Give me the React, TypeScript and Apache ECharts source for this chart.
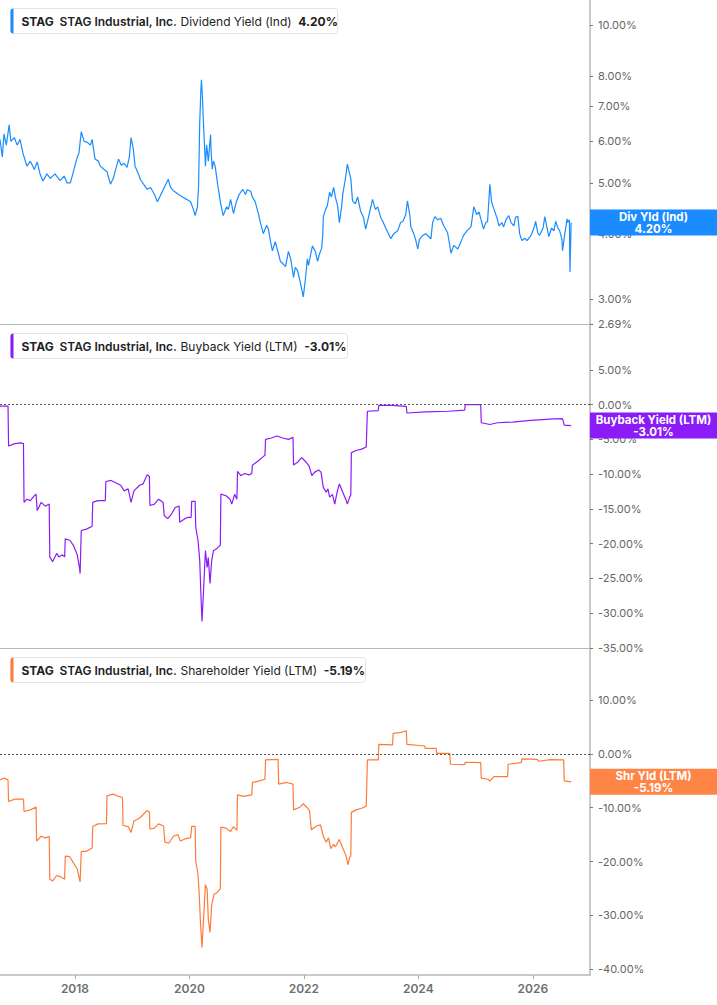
import { useEffect, useRef } from 'react';
import * as echarts from 'echarts';

// time is in decimal years, values in percent
const X_MIN = 2016.69;
const X_MAX = 2027.0;
const yearTicks = [2018, 2020, 2022, 2024, 2026];

const divTicks = [2.69, 3, 4, 5, 6, 7, 8, 10];
const buybackTicks = [5, 0, -5, -10, -15, -20, -25, -30, -35];
const shareholderTicks = [10, 0, -10, -20, -30, -40];

const lastValues = { dividend: 4.2, buyback: -3.01, shareholder: -5.19 };

const dividendYield = [
  [2016.69, 6.05], [2016.73, 5.6], [2016.76, 6.2], [2016.8, 5.9], [2016.85, 6.45], [2016.88, 6.0], [2016.94, 6.1],
  [2016.99, 5.9], [2017.04, 6.05], [2017.09, 5.7], [2017.16, 5.38], [2017.22, 5.5], [2017.29, 5.3], [2017.34, 5.48],
  [2017.39, 5.2], [2017.44, 5.04], [2017.51, 5.2], [2017.57, 5.1], [2017.65, 5.2], [2017.74, 5.05], [2017.81, 5.15],
  [2017.86, 5.0], [2017.92, 5.0], [2017.97, 5.24], [2018.04, 5.6], [2018.07, 5.7], [2018.11, 6.26], [2018.16, 6.0],
  [2018.21, 5.98], [2018.27, 5.9], [2018.3, 6.05], [2018.35, 5.55], [2018.41, 5.5], [2018.44, 5.38], [2018.51, 5.3],
  [2018.56, 5.25], [2018.62, 4.97], [2018.67, 5.1], [2018.76, 5.55], [2018.81, 5.4], [2018.86, 5.45], [2018.91, 5.35],
  [2018.95, 5.6], [2018.98, 6.1], [2019.02, 5.8], [2019.05, 5.38], [2019.11, 5.2], [2019.14, 5.08], [2019.21, 4.95],
  [2019.26, 4.86], [2019.32, 4.9], [2019.39, 4.75], [2019.44, 4.6], [2019.49, 4.72], [2019.56, 4.9], [2019.63, 5.08],
  [2019.67, 4.9], [2019.72, 4.83], [2019.81, 4.75], [2019.88, 4.7], [2019.95, 4.65], [2020.02, 4.6], [2020.07, 4.45],
  [2020.1, 4.33], [2020.14, 4.5], [2020.16, 4.93], [2020.18, 6.5], [2020.2, 7.5], [2020.21, 7.86], [2020.23, 7.2],
  [2020.24, 6.69], [2020.26, 6.0], [2020.28, 5.38], [2020.3, 5.9], [2020.31, 5.79], [2020.33, 5.5], [2020.37, 6.18],
  [2020.38, 5.7], [2020.4, 5.31], [2020.42, 5.5], [2020.45, 5.38], [2020.49, 5.0], [2020.51, 4.83], [2020.54, 4.6],
  [2020.59, 4.33], [2020.65, 4.5], [2020.68, 4.45], [2020.72, 4.65], [2020.77, 4.37], [2020.82, 4.6], [2020.87, 4.75],
  [2020.93, 4.86], [2020.98, 4.75], [2021.01, 4.85], [2021.07, 4.82], [2021.1, 4.7], [2021.15, 4.6], [2021.21, 4.35],
  [2021.24, 4.2], [2021.29, 4.0], [2021.35, 4.15], [2021.38, 4.08], [2021.42, 3.85], [2021.45, 3.71], [2021.5, 3.86],
  [2021.56, 3.65], [2021.59, 3.54], [2021.64, 3.5], [2021.68, 3.46], [2021.73, 3.7], [2021.77, 3.58], [2021.82, 3.3],
  [2021.85, 3.45], [2021.89, 3.4], [2021.94, 3.22], [2021.99, 3.03], [2022.03, 3.3], [2022.06, 3.58], [2022.08, 3.48],
  [2022.15, 3.79], [2022.2, 3.7], [2022.24, 3.54], [2022.27, 3.65], [2022.31, 3.75], [2022.33, 3.97], [2022.34, 4.31],
  [2022.38, 4.45], [2022.41, 4.52], [2022.45, 4.8], [2022.48, 4.7], [2022.52, 4.9], [2022.55, 4.7], [2022.59, 4.52],
  [2022.62, 4.2], [2022.66, 4.5], [2022.68, 4.76], [2022.73, 5.13], [2022.76, 5.43], [2022.8, 5.2], [2022.82, 5.1],
  [2022.85, 4.62], [2022.9, 4.56], [2022.94, 4.7], [2022.99, 4.42], [2023.04, 4.3], [2023.08, 4.08], [2023.13, 4.3],
  [2023.2, 4.65], [2023.25, 4.45], [2023.29, 4.5], [2023.34, 4.3], [2023.38, 4.22], [2023.43, 4.1], [2023.52, 3.91],
  [2023.57, 4.0], [2023.64, 4.05], [2023.69, 4.2], [2023.73, 4.22], [2023.78, 4.35], [2023.81, 4.62], [2023.85, 4.35],
  [2023.87, 4.12], [2023.92, 4.0], [2023.95, 3.91], [2023.99, 3.74], [2024.02, 3.9], [2024.08, 3.97], [2024.13, 4.0],
  [2024.18, 3.95], [2024.22, 3.91], [2024.25, 4.2], [2024.29, 4.31], [2024.34, 4.25], [2024.39, 4.28], [2024.44, 4.15],
  [2024.51, 4.02], [2024.55, 3.8], [2024.57, 3.67], [2024.62, 3.8], [2024.69, 3.74], [2024.74, 3.85], [2024.79, 3.97],
  [2024.85, 4.05], [2024.92, 4.12], [2024.97, 4.5], [2025.02, 4.35], [2025.06, 4.4], [2025.11, 4.2], [2025.14, 4.08],
  [2025.18, 4.2], [2025.21, 4.22], [2025.25, 4.97], [2025.28, 4.6], [2025.32, 4.46], [2025.37, 4.3], [2025.41, 4.14],
  [2025.46, 4.2], [2025.49, 4.12], [2025.53, 4.25], [2025.58, 4.33], [2025.62, 4.2], [2025.67, 4.14], [2025.7, 4.3],
  [2025.74, 4.31], [2025.77, 4.0], [2025.81, 3.88], [2025.86, 3.92], [2025.9, 3.88], [2025.97, 3.97], [2026.02, 4.1],
  [2026.05, 4.22], [2026.09, 4.0], [2026.12, 3.97], [2026.18, 4.1], [2026.21, 4.31], [2026.25, 4.1], [2026.28, 3.95],
  [2026.33, 4.1], [2026.37, 4.05], [2026.4, 4.22], [2026.44, 4.1], [2026.47, 4.05], [2026.51, 3.9], [2026.52, 3.71],
  [2026.56, 4.0], [2026.6, 4.27], [2026.61, 4.2], [2026.64, 4.25], [2026.65, 3.38], [2026.67, 4.2],
];

const buybackYield = [
  [2016.69, -0.2], [2016.83, -0.2], [2016.84, -5.95], [2016.95, -5.6], [2017.05, -5.5], [2017.1, -5.6],
  [2017.11, -14.05], [2017.16, -13.6], [2017.22, -13.8], [2017.28, -13.2], [2017.32, -12.86], [2017.34, -15.24],
  [2017.41, -14.05], [2017.48, -14.6], [2017.55, -14.3], [2017.56, -21.9], [2017.61, -22.6], [2017.68, -21.4],
  [2017.72, -21.9], [2017.78, -21.6], [2017.82, -21.9], [2017.83, -19.3], [2017.91, -19.5], [2017.97, -20.2],
  [2018.04, -21.6], [2018.08, -23.5], [2018.09, -24.3], [2018.11, -18.1], [2018.2, -17.9], [2018.3, -17.5],
  [2018.31, -14.05], [2018.4, -13.8], [2018.53, -13.8], [2018.54, -11.05], [2018.63, -10.9], [2018.73, -11.3],
  [2018.8, -11.6], [2018.86, -12.4], [2018.93, -12.1], [2018.98, -14.05], [2019.03, -12.4], [2019.13, -11.6],
  [2019.19, -11.4], [2019.26, -10.1], [2019.3, -10.3], [2019.31, -14.5], [2019.39, -14.3], [2019.46, -13.6],
  [2019.54, -14.05], [2019.56, -15.95], [2019.62, -16.4], [2019.69, -15.7], [2019.75, -14.8], [2019.82, -14.6],
  [2019.83, -16.9], [2019.92, -16.4], [2019.98, -16.2], [2020.03, -16.2], [2020.04, -13.9], [2020.1, -13.9],
  [2020.11, -17.6], [2020.15, -19.5], [2020.18, -22.4], [2020.2, -27.1], [2020.22, -31.2], [2020.25, -26.2],
  [2020.28, -21.0], [2020.31, -23.4], [2020.33, -22.0], [2020.36, -25.7], [2020.39, -22.4], [2020.42, -21.0],
  [2020.48, -20.7], [2020.54, -20.2], [2020.55, -12.86], [2020.64, -13.1], [2020.71, -13.6], [2020.74, -14.3],
  [2020.79, -12.9], [2020.83, -13.6], [2020.84, -9.6], [2020.9, -10.2], [2020.97, -9.9], [2021.04, -10.1],
  [2021.09, -9.9], [2021.1, -8.7], [2021.2, -8.1], [2021.3, -7.4], [2021.32, -7.3], [2021.33, -5.0],
  [2021.43, -4.8], [2021.53, -4.5], [2021.63, -4.8], [2021.73, -5.0], [2021.81, -4.7], [2021.82, -8.67],
  [2021.89, -8.3], [2021.96, -7.62], [2022.02, -8.1], [2022.09, -8.8], [2022.14, -10.2], [2022.19, -9.7],
  [2022.26, -9.4], [2022.3, -9.7], [2022.34, -11.9], [2022.39, -12.6], [2022.42, -12.1], [2022.45, -13.3],
  [2022.5, -12.9], [2022.54, -14.3], [2022.58, -12.6], [2022.62, -11.4], [2022.68, -12.6], [2022.74, -13.8],
  [2022.76, -14.3], [2022.8, -13.3], [2022.82, -13.0], [2022.83, -6.9], [2022.91, -6.6], [2023.01, -6.4],
  [2023.09, -6.1], [2023.1, -6.1], [2023.11, -0.95], [2023.3, -0.85], [2023.31, -0.1], [2023.54, -0.1],
  [2023.79, -0.24], [2023.8, -1.2], [2024.13, -1.05], [2024.53, -0.95], [2024.81, -0.8], [2024.82, 0.0],
  [2025.09, 0.0], [2025.1, -2.6], [2025.25, -2.86], [2025.38, -2.6], [2025.65, -2.5], [2025.91, -2.3],
  [2026.17, -2.14], [2026.37, -2.05], [2026.52, -2.0], [2026.55, -2.95], [2026.67, -3.01],
];

const shareholderYield = [
  [2016.69, -4.81], [2016.76, -4.5], [2016.83, -4.81], [2016.84, -8.83], [2016.95, -8.4], [2017.1, -8.4],
  [2017.11, -10.7], [2017.22, -10.4], [2017.32, -9.88], [2017.33, -16.2], [2017.41, -15.3], [2017.48, -15.6],
  [2017.55, -15.3], [2017.56, -23.3], [2017.61, -23.6], [2017.68, -22.6], [2017.74, -22.8], [2017.82, -23.3],
  [2017.83, -19.0], [2017.91, -19.1], [2017.97, -20.2], [2018.04, -21.4], [2018.09, -23.8], [2018.11, -18.1],
  [2018.2, -18.1], [2018.3, -17.5], [2018.31, -13.5], [2018.4, -13.0], [2018.55, -12.96], [2018.56, -7.78],
  [2018.67, -7.47], [2018.76, -7.9], [2018.83, -8.1], [2018.84, -13.3], [2018.93, -13.5], [2018.98, -14.6],
  [2019.03, -12.5], [2019.13, -11.9], [2019.19, -11.3], [2019.26, -10.5], [2019.3, -10.8], [2019.31, -13.95],
  [2019.39, -13.8], [2019.46, -13.0], [2019.55, -13.4], [2019.57, -16.4], [2019.64, -16.6], [2019.72, -15.3],
  [2019.8, -15.0], [2019.84, -16.2], [2019.92, -15.8], [2020.02, -15.6], [2020.04, -13.46], [2020.1, -13.46],
  [2020.11, -19.9], [2020.15, -22.4], [2020.17, -25.8], [2020.19, -30.7], [2020.22, -36.0], [2020.25, -30.1],
  [2020.28, -24.3], [2020.31, -25.2], [2020.33, -30.7], [2020.36, -33.2], [2020.39, -28.0], [2020.43, -26.1],
  [2020.48, -25.8], [2020.54, -25.1], [2020.55, -13.6], [2020.64, -13.8], [2020.72, -14.4], [2020.77, -13.5],
  [2020.83, -14.2], [2020.84, -7.6], [2020.94, -7.9], [2021.09, -7.6], [2021.1, -5.3], [2021.23, -5.0],
  [2021.32, -4.7], [2021.33, -1.11], [2021.55, -1.0], [2021.56, -5.6], [2021.7, -5.3], [2021.81, -5.6],
  [2021.82, -10.4], [2021.93, -9.9], [2021.99, -9.26], [2022.06, -10.0], [2022.1, -10.6], [2022.13, -14.1],
  [2022.22, -13.4], [2022.29, -13.2], [2022.34, -15.3], [2022.39, -16.4], [2022.43, -15.6], [2022.47, -17.6],
  [2022.52, -16.8], [2022.55, -17.3], [2022.62, -15.9], [2022.68, -17.5], [2022.74, -19.0], [2022.77, -20.6],
  [2022.8, -19.2], [2022.82, -19.0], [2022.83, -10.86], [2022.91, -10.4], [2023.01, -10.1], [2023.09, -9.7],
  [2023.1, -9.7], [2023.11, -1.11], [2023.3, -1.11], [2023.31, 1.79], [2023.55, 1.7], [2023.56, 3.83],
  [2023.7, 4.0], [2023.79, 4.32], [2023.8, 1.79], [2024.11, 1.48], [2024.12, 1.05], [2024.31, 1.05],
  [2024.32, 0.12], [2024.55, 0.12], [2024.56, -1.91], [2024.81, -2.0], [2024.82, -1.54], [2025.09, -1.6],
  [2025.1, -4.51], [2025.22, -4.7], [2025.25, -5.06], [2025.32, -4.2], [2025.56, -4.2], [2025.57, -1.91],
  [2025.8, -1.6], [2025.81, -0.93], [2026.08, -1.0], [2026.1, -1.36], [2026.31, -1.05], [2026.54, -1.11],
  [2026.55, -5.0], [2026.67, -5.19],
];

const BLUE = '#1a8cff';
const PURPLE = '#8b1cf7';
const ORANGE = '#ff7b3a';
const ORANGE_BADGE = '#ff8547';
const FONT = 'Inter, "Noto Sans", sans-serif';
const AXIS_GREY = '#b8b8b8';

const pct = (v: number) => v.toFixed(2) + '%';

const badge = (value: number, text: string, color: string) => ({
  silent: true,
  symbol: 'rect',
  symbolSize: [127, 26],
  symbolOffset: [63.5, 0],
  itemStyle: { color },
  label: {
    show: true,
    position: 'inside',
    formatter: text,
    color: '#fff',
    fontFamily: FONT,
    fontSize: 11.5,
    fontWeight: 'bold',
    lineHeight: 12,
  },
  data: [{ coord: [X_MAX, value] }],
});

const zeroLine = {
  silent: true,
  symbol: 'none',
  label: { show: false },
  lineStyle: { color: '#555', width: 1, type: [2, 2] },
  data: [{ yAxis: 0 }],
};

const legendBox = (top: number, width: number, color: string, metric: string, value: string) => ({
  type: 'group',
  left: 10,
  top,
  children: [
    {
      type: 'rect',
      shape: { x: 0, y: 0, width, height: 25, r: 3 },
      style: { fill: '#fff', stroke: '#e4e4e4', lineWidth: 1 },
    },
    {
      type: 'rect',
      shape: { x: 0, y: 0, width: 3, height: 25, r: [3, 0, 0, 3] },
      style: { fill: color },
    },
    {
      type: 'text',
      x: 11,
      y: 12.5,
      style: { text: 'STAG', fill: '#222', fontFamily: FONT, fontSize: 12, fontWeight: 'bold', verticalAlign: 'middle' },
    },
    {
      type: 'text',
      x: 49,
      y: 12.5,
      style: {
        text: 'STAG Industrial, Inc.',
        fill: '#222',
        fontFamily: FONT,
        fontSize: 12,
        fontWeight: 600,
        verticalAlign: 'middle',
      },
    },
    {
      type: 'text',
      x: 170,
      y: 12.5,
      style: {
        text: `{m|${metric}}  {v|${value}}`,
        verticalAlign: 'middle',
        rich: {
          m: { fill: '#222', fontFamily: FONT, fontSize: 12, fontWeight: 'normal' },
          v: { fill: '#222', fontFamily: FONT, fontSize: 12, fontWeight: 'bold' },
        },
      },
    },
  ],
});

const xAxisFor = (gridIndex: number, bottom: boolean) => ({
  type: 'value',
  gridIndex,
  min: X_MIN,
  max: X_MAX,
  axisLine: { show: true, onZero: false, lineStyle: { color: AXIS_GREY, width: bottom ? 1.5 : 1 } },
  axisTick: { show: bottom, customValues: yearTicks, length: 4, lineStyle: { color: '#aaa' } },
  axisLabel: {
    show: bottom,
    customValues: yearTicks,
    formatter: (v: number) => String(Math.round(v)),
    color: '#6e6e6e',
    fontFamily: FONT,
    fontSize: 12,
    fontWeight: 600,
    margin: 7,
  },
  splitLine: { show: false },
});

const yAxisFor = (gridIndex: number, ticks: number[], extra: object) => ({
  gridIndex,
  position: 'right',
  axisLine: { show: true, onZero: false, lineStyle: { color: AXIS_GREY, width: 1.5 } },
  axisTick: { show: true, customValues: ticks, length: 3, lineStyle: { color: '#777' } },
  axisLabel: {
    customValues: ticks,
    formatter: pct,
    color: '#666',
    fontFamily: FONT,
    fontSize: 11,
    margin: 8,
  },
  splitLine: { show: false },
  ...extra,
});

const App = () => {
  const chartRef = useRef<HTMLDivElement>(null);

  useEffect(() => {
    if (!chartRef.current) return;
    const chart = echarts.init(chartRef.current, undefined, { renderer: 'svg' });

    const option = {
      animation: false,
      backgroundColor: '#fff',
      grid: [
        { left: 0, right: 127, top: 0, height: 324 },
        { left: 0, right: 127, top: 324, height: 324 },
        { left: 0, right: 127, top: 648, height: 327 },
      ],
      xAxis: [xAxisFor(0, false), xAxisFor(1, false), xAxisFor(2, true)],
      yAxis: [
        yAxisFor(0, divTicks, { type: 'log', logBase: 10, min: 2.69, max: 11.16 }),
        yAxisFor(1, buybackTicks, { type: 'value', min: -35, max: 11.6 }),
        yAxisFor(2, shareholderTicks, { type: 'value', min: -41.1, max: 19.7 }),
      ],
      series: [
        {
          name: 'Dividend Yield (Ind)',
          type: 'line',
          xAxisIndex: 0,
          yAxisIndex: 0,
          data: dividendYield,
          showSymbol: false,
          lineStyle: { color: BLUE, width: 1.2 },
          itemStyle: { color: BLUE },
          markPoint: badge(lastValues.dividend, 'Div Yld (Ind)\n' + pct(lastValues.dividend), BLUE),
        },
        {
          name: 'Buyback Yield (LTM)',
          type: 'line',
          xAxisIndex: 1,
          yAxisIndex: 1,
          data: buybackYield,
          showSymbol: false,
          lineStyle: { color: PURPLE, width: 1.2 },
          itemStyle: { color: PURPLE },
          markLine: zeroLine,
          markPoint: badge(lastValues.buyback, 'Buyback Yield (LTM)\n' + pct(lastValues.buyback), PURPLE),
        },
        {
          name: 'Shareholder Yield (LTM)',
          type: 'line',
          xAxisIndex: 2,
          yAxisIndex: 2,
          data: shareholderYield,
          showSymbol: false,
          lineStyle: { color: ORANGE, width: 1.2 },
          itemStyle: { color: ORANGE },
          markLine: zeroLine,
          markPoint: badge(lastValues.shareholder, 'Shr Yld (LTM)\n' + pct(lastValues.shareholder), ORANGE_BADGE),
        },
      ],
      graphic: [
        legendBox(8, 327, BLUE, 'Dividend Yield (Ind)', pct(lastValues.dividend)),
        legendBox(333, 337, PURPLE, 'Buyback Yield (LTM)', pct(lastValues.buyback)),
        legendBox(657, 355, ORANGE, 'Shareholder Yield (LTM)', pct(lastValues.shareholder)),
      ],
    };

    chart.setOption(option);

    const handleResize = () => chart.resize();
    window.addEventListener('resize', handleResize);

    return () => {
      chart.dispose();
      window.removeEventListener('resize', handleResize);
    };
  }, []);

  return (
    <div
      ref={chartRef}
      style={{ position: 'absolute', left: 0, top: 0, width: '717px', height: '1005px' }}
    />
  );
};

export default App;
